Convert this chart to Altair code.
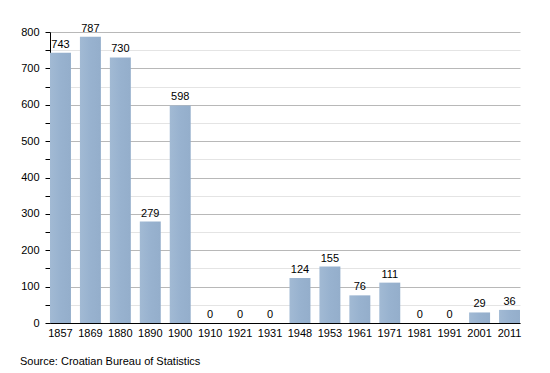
import altair as alt
import pandas as pd

years = ["1857", "1869", "1880", "1890", "1900", "1910", "1921", "1931",
         "1948", "1953", "1961", "1971", "1981", "1991", "2001", "2011"]
population = [743, 787, 730, 279, 598, 0, 0, 0, 124, 155, 76, 111, 0, 0, 29, 36]
source_text = "Source: Croatian Bureau of Statistics"

df = pd.DataFrame({"year": years, "pop": population})

x = alt.X("year:N", sort=years, title=None,
          scale=alt.Scale(paddingInner=0.3, paddingOuter=0, align=0),
          axis=alt.Axis(labelAngle=0, ticks=False, domainColor="#000000",
                        labelFont="Liberation Sans", labelFontSize=11,
                        labelColor="#000000", labelPadding=4))

y = alt.Y("pop:Q", title=None,
          scale=alt.Scale(domain=[0, 800], nice=False),
          axis=alt.Axis(values=list(range(0, 801, 50)),
                        labelOverlap=False,
                        labelExpr="datum.value % 100 === 0 ? datum.label : ''",
                        gridColor={"condition": {"test": "datum.value % 100 === 0", "value": "#b8b8b8"},
                                   "value": "#e4e4e4"},
                        domainColor="#000000", tickColor="#000000", tickSize=5,
                        labelFont="Liberation Sans", labelFontSize=11,
                        labelColor="#000000", labelPadding=6))

bars = alt.Chart(df).mark_bar(
    color={"x1": 0, "y1": 0, "x2": 1, "y2": 0, "gradient": "linear",
           "stops": [{"offset": 0, "color": "#a2bad4"},
                     {"offset": 0.5, "color": "#98b2cf"},
                     {"offset": 1, "color": "#94aecb"}]}
).encode(x=x, y=y)

labels = alt.Chart(df).mark_text(
    baseline="bottom", dy=-3, font="Liberation Sans", fontSize=11, color="#000000"
).encode(x=x, y=y, text="pop:Q")

chart = (bars + labels).properties(
    width=470, height=291,
    autosize="none",
    padding={"left": 42, "top": 24, "right": 22, "bottom": 50},
    title=alt.TitleParams(source_text, orient="bottom", anchor="start", frame="group",
                          dx=-30, offset=18, font="Liberation Sans", fontSize=11,
                          fontWeight="normal", color="#000000"),
).configure_view(stroke=None)

chart.save("out.html", embed_options={"renderer": "svg", "actions": False})
